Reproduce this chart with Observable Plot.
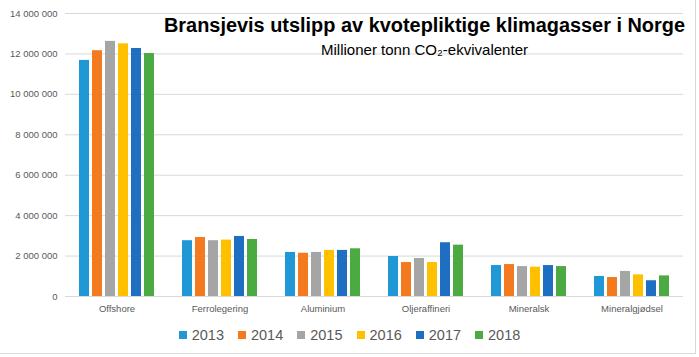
<!DOCTYPE html>
<html>
<head>
<meta charset="utf-8">
<script src="https://cdn.jsdelivr.net/npm/d3@7"></script>
<script src="https://cdn.jsdelivr.net/npm/@observablehq/plot@0.6"></script>
<style>
  html, body { margin: 0; padding: 0; background: #fff; }
  #wrap { position: relative; width: 699px; height: 357px; overflow: hidden; font-family: "Liberation Sans", Arial, sans-serif; }
  #border { position: absolute; left: -2px; top: -2px; width: 698px; height: 356px; border: 1px solid #d9d9d9; box-sizing: border-box; pointer-events: none; }
  .fit { position: absolute; white-space: nowrap; line-height: 1; transform-origin: 0 0; font-family: "Liberation Sans", Arial, sans-serif; color: #000; }
  #title { top: 15.5px; left: 164px; font-weight: bold; font-size: 19.5px; }
  #subtitle { top: 42.3px; left: 320.7px; font-size: 15px; }
  #legend { position: absolute; top: 327px; left: 0; width: 699px; display: flex; justify-content: center; gap: 14px; font-size: 14.5px; color: #595959; }
  #legend .item { display: flex; align-items: center; }
  #legend .sw { width: 8px; height: 8px; margin-right: 5px; }
  #chart { position: absolute; top: 0; left: 0; }
</style>
</head>
<body>
<div id="wrap">
  <div id="chart"></div>
  <span id="title" class="fit" data-w="521">Bransjevis utslipp av kvotepliktige klimagasser i Norge</span>
  <span id="subtitle" class="fit" data-w="207">Millioner tonn CO₂-ekvivalenter</span>
  <div id="legend"></div>
  <div id="border"></div>
</div>
<script>
const categories = ["Offshore", "Ferrolegering", "Aluminium", "Oljeraffineri", "Mineralsk", "Mineralgjødsel"];
const years = ["2013", "2014", "2015", "2016", "2017", "2018"];
const colors = ["#2198D6", "#F47A20", "#A5A5A5", "#FFC000", "#1E6FC1", "#4BAA42"];
const v2013 = [11680000, 2760000, 2180000, 1980000, 1530000, 990000];
const v2014 = [12160000, 2920000, 2140000, 1680000, 1580000, 940000];
const v2015 = [12620000, 2760000, 2180000, 1880000, 1480000, 1240000];
const v2016 = [12500000, 2790000, 2280000, 1680000, 1450000, 1070000];
const v2017 = [12270000, 2970000, 2280000, 2660000, 1530000, 780000];
const v2018 = [12020000, 2820000, 2360000, 2540000, 1480000, 1020000];
const yTicks = [0, 2000000, 4000000, 6000000, 8000000, 10000000, 12000000, 14000000];

const series = [v2013, v2014, v2015, v2016, v2017, v2018];
const data = [];
categories.forEach((c, i) => {
  years.forEach((y, j) => data.push({category: c, year: y, value: series[j][i]}));
});

const fmt = d => d3.format(",")(d).replace(/,/g, " ");

const plot = Plot.plot({
  width: 699,
  height: 320,
  marginTop: 13,
  marginBottom: 24,
  marginLeft: 63,
  marginRight: 14,
  style: {fontFamily: "Liberation Sans, Arial, sans-serif", fontSize: "9.5px", color: "#595959", background: "transparent"},
  fx: {domain: categories, padding: 0, label: null, tickSize: 0, tickPadding: 9},
  x: {domain: years, axis: null, paddingInner: 0.25, paddingOuter: 1.02},
  y: {domain: [0, 14000000], ticks: yTicks, tickFormat: fmt, label: null, tickSize: 0, tickPadding: 8},
  color: {domain: years, range: colors},
  marks: [
    Plot.ruleY(yTicks, {stroke: "#d9d9d9", strokeWidth: 1}),
    Plot.barY(data, {fx: "category", x: "year", y: "value", fill: "year"})
  ]
});
plot.querySelectorAll("text").forEach(t => t.setAttribute("fill", "#595959"));
document.getElementById("chart").appendChild(plot);

document.querySelectorAll(".fit").forEach(el => {
  const w = el.getBoundingClientRect().width;
  const target = +el.dataset.w;
  el.style.transform = `scaleX(${target / w})`;
});

const legend = document.getElementById("legend");
years.forEach((y, j) => {
  const it = document.createElement("div");
  it.className = "item";
  it.innerHTML = `<span class="sw" style="background:${colors[j]}"></span><span>${y}</span>`;
  legend.appendChild(it);
});
</script>
</body>
</html>
